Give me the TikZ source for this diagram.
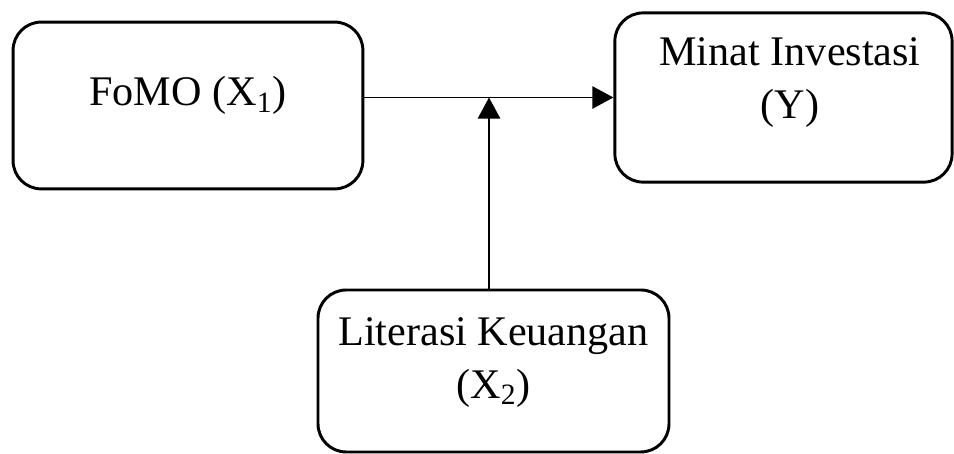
\documentclass[tikz,border=0pt]{standalone}
\usepackage{fontspec}
\setmainfont{Liberation Serif}
\usetikzlibrary{arrows.meta,positioning,calc}
\tikzset{
  vbox/.style={draw=black, line width=1.4pt, rounded corners=4.7mm, inner sep=0pt},
  vtxt/.style={align=center, inner sep=0pt, font=\fontsize{20}{25}\selectfont},
  arr/.style={-{Triangle[length=3.5mm, width=3.7mm]}, line width=0.9pt},
}
\begin{document}
\begin{tikzpicture}
  \useasboundingbox (0,0) rectangle (15.9,7.55);
  % variable boxes
  \node[vbox, minimum width=5.83cm, minimum height=2.78cm] (fomo) at (3.133,5.792) {};
  \node[vbox, minimum width=5.62cm, minimum height=2.82cm] (minat) at (13.058,5.925) {};
  \node[vbox, minimum width=5.85cm, minimum height=2.7cm] (lit) at (8.225,1.367) {};
  % labels hang from the top edge of each box
  \node[vtxt, anchor=north] (fomotxt) at ($(fomo.north)+(0,-0.92)$) {FoMO (X\textsubscript{1})};
  \node[vtxt, anchor=north] (minattxt) at ($(minat.north)+(0.11,-0.43)$) {Minat Investasi\\(Y)};
  \node[vtxt, anchor=north] (littxt) at ($(lit.north)+(0,-0.48)$) {Literasi Keuangan\\(X\textsubscript{2})};
  % main path and the moderating arrow onto it
  \coordinate (junc) at (8.15,5.925);
  \draw[arr] (fomo.east |- minat.west) -- (minat.west);
  \draw[arr] (lit.north -| junc) -- (junc);
\end{tikzpicture}
\end{document}
